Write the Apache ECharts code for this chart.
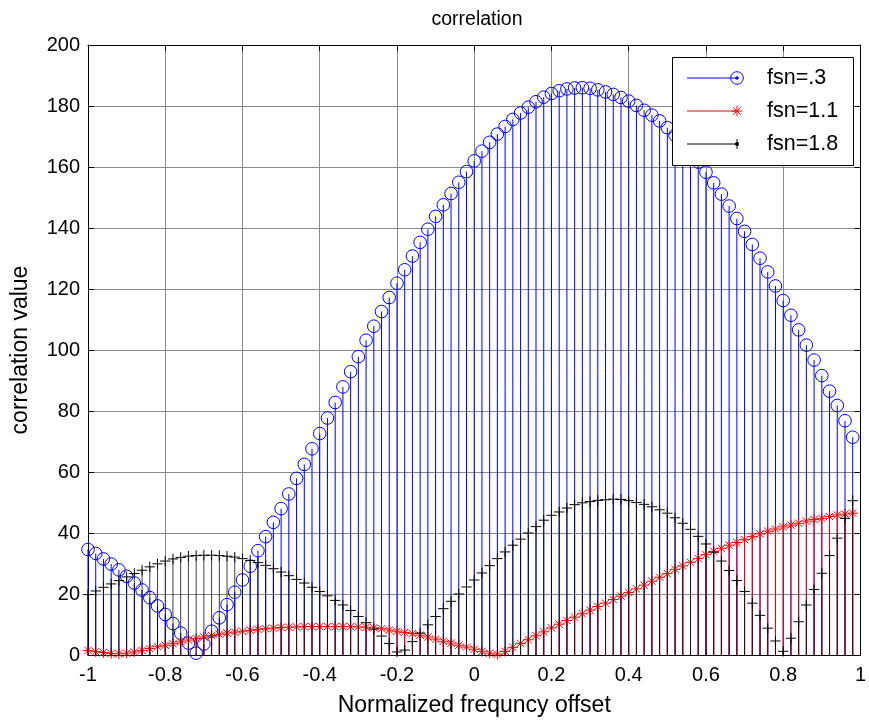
<!DOCTYPE html>
<html>
<head>
<meta charset="utf-8">
<script src="https://cdn.jsdelivr.net/npm/echarts@6/dist/echarts.min.js"></script>
<style>
html,body{margin:0;padding:0;background:#fff;}
#chart{width:869px;height:722px;}
</style>
</head>
<body>
<div id="chart"></div>
<script>
// ---- data ----
const xTicks = [-1, -0.8, -0.6, -0.4, -0.2, 0, 0.2, 0.4, 0.6, 0.8, 1];
const yTicks = [0, 20, 40, 60, 80, 100, 120, 140, 160, 180, 200];
const freqOffset = Array.from({length: 100}, (_, i) => Math.round((-1 + 0.02 * i) * 100) / 100);

const fsn03 = [34.6,33.3,31.5,29.8,27.9,25.8,23.6,21.3,18.8,16.1,
  13.3,10.3,7.2,3.9,0.6,3.6,7.8,12.2,16.5,20.6,
  24.6,29.1,34.2,38.8,43.5,48,52.8,57.9,62.5,67.6,
  72.6,77.7,82.8,87.9,92.9,97.8,103.2,107.8,112.6,117.2,
  121.9,126.3,130.8,135.3,139.6,143.8,147.6,151.3,155,158.5,
  162,165.2,168.1,170.8,173.3,175.6,177.7,179.6,181.4,182.9,
  184.1,185,185.6,185.9,186,185.8,185.3,184.6,183.8,182.8,
  181.6,180.2,178.6,177,175.1,172.9,170.4,167.7,164.8,161.6,
  158.3,154.8,151.1,147.2,143.1,138.9,134.6,130.1,125.6,121,
  116.2,111.4,106.6,101.6,96.7,91.6,86.5,81.8,76.8,71.4];

const fsn11 = [1.5,1.1,0.8,0.5,0.4,0.6,1.0,1.5,2.1,2.7,
  3.2,3.7,4.3,4.9,5.4,5.9,6.4,6.8,7.2,7.5,
  7.8,8.1,8.4,8.6,8.8,9.0,9.1,9.2,9.3,9.3,
  9.3,9.3,9.3,9.3,9.3,9.2,9.1,8.9,8.6,8.2,
  7.8,7.4,7.0,6.5,5.9,5.2,4.5,3.9,3.2,2.6,
  1.9,1.2,0.6,0.3,1.2,2.5,3.8,5.0,6.3,7.6,
  8.9,10.1,11.3,12.4,13.5,14.7,15.9,17.0,18.2,19.3,
  20.5,21.7,22.9,24.2,25.5,26.7,28.1,29.2,30.4,31.6,
  32.9,34.0,35.0,36.0,36.9,37.8,38.8,39.7,40.6,41.3,
  42.0,42.6,43.2,43.9,44.4,44.8,45.4,45.9,46.2,46.5];

const fsn18 = [19.8,21.0,22.2,23.3,24.4,25.6,26.7,27.8,28.9,29.9,
  30.8,31.5,32.0,32.4,32.6,32.7,32.7,32.6,32.4,32.1,
  31.6,31.0,30.3,29.4,28.3,27.2,26.0,24.8,23.6,22.2,
  20.8,19.4,17.9,16.4,14.6,12.6,10.6,8.5,6.2,3.8,
  1.0,1.6,4.4,7.2,9.9,12.6,15.2,17.6,20.0,22.3,
  24.6,26.9,29.3,31.6,33.8,36.0,38.0,40.0,42.1,44.2,
  45.8,46.9,48.2,49.3,49.9,50.3,50.7,50.9,51.1,51.0,
  50.6,50.0,49.4,48.6,47.6,46.5,45.0,43.2,41.2,38.9,
  36.4,33.7,30.8,27.7,24.4,20.8,17.0,13.0,8.8,4.6,
  1.2,5.5,10.9,16.4,21.5,26.8,32.6,38.3,44.8,50.6];

const seriesNames = ['fsn=.3', 'fsn=1.1', 'fsn=1.8'];
const FONT = 'Liberation Sans, Arial, Helvetica, sans-serif';

function pairs(vals) { return freqOffset.map((x, i) => [x, vals[i]]); }

function markerShapes(kind, cx, cy, color) {
  const s = {stroke: color, lineWidth: 1, fill: 'none'};
  if (kind === 'circle') {
    return [{type: 'circle', shape: {cx, cy, r: 6.3}, style: s}];
  }
  const h = 5.2, d = 3.7;
  const lines = [[-h, 0, h, 0], [0, -h, 0, h]];
  if (kind === 'star') { lines.push([-d, -d, d, d], [-d, d, d, -d]); }
  return lines.map(l => ({type: 'line', shape: {x1: cx + l[0], y1: cy + l[1], x2: cx + l[2], y2: cy + l[3]}, style: s}));
}

function stemRender(kind, color, stemOpacity) {
  return function (params, api) {
    const x = api.value(0), y = api.value(1);
    const base = api.coord([x, 0]);
    const top = api.coord([x, y]);
    const children = [{
      type: 'line',
      shape: {x1: base[0], y1: base[1], x2: top[0], y2: top[1]},
      style: {stroke: color, lineWidth: 1, opacity: stemOpacity}
    }].concat(markerShapes(kind, top[0], top[1], color));
    return {type: 'group', children};
  };
}

function stemSeries(name, vals, kind, color, op) {
  return {
    type: 'custom', name, data: pairs(vals), clip: false,
    encode: {x: 0, y: 1},
    renderItem: stemRender(kind, color, op),
    silent: true
  };
}

const chart = echarts.init(document.getElementById('chart'), null, {renderer: 'canvas'});
const L = {x: 672, y: 57, w: 181, h: 108};
const rows = [78, 111, 144];
const mx = 737;
const legendGraphics = [
  {type: 'rect', shape: {x: L.x + 0.5, y: L.y + 0.5, width: L.w, height: L.h}, style: {fill: '#fff', stroke: '#000', lineWidth: 1}},
  {type: 'line', shape: {x1: 687, y1: rows[0], x2: mx, y2: rows[0]}, style: {stroke: '#0000ff', lineWidth: 1}},
  {type: 'circle', shape: {cx: mx, cy: rows[0], r: 6.3}, style: {fill: 'none', stroke: '#0000ff', lineWidth: 1}},
  {type: 'circle', shape: {cx: mx, cy: rows[0], r: 1.8}, style: {fill: '#0000ff'}},
  {type: 'line', shape: {x1: 687, y1: rows[1], x2: mx, y2: rows[1]}, style: {stroke: '#ff0000', lineWidth: 1}},
  ...markerShapes('star', mx, rows[1], '#ff0000'),
  {type: 'line', shape: {x1: 687, y1: rows[2], x2: mx, y2: rows[2]}, style: {stroke: '#000', lineWidth: 1}},
  {type: 'line', shape: {x1: mx, y1: rows[2] - 5, x2: mx, y2: rows[2] + 5}, style: {stroke: '#000', lineWidth: 1}},
  {type: 'circle', shape: {cx: mx, cy: rows[2], r: 2}, style: {fill: '#000'}}
].concat(seriesNames.map((n, i) => ({
  type: 'text', x: 767, y: rows[i] + 0.5,
  style: {text: n, fill: '#000', font: '21.5px ' + FONT, textVerticalAlign: 'middle', verticalAlign: 'middle'}
}))).map(g => Object.assign({z: 100}, g));

const axisCommon = {
  type: 'value',
  axisLine: {show: true, onZero: false, lineStyle: {color: '#000', width: 1}},
  axisTick: {show: true, inside: true, length: 6, lineStyle: {color: '#000'}},
};

chart.setOption({
  animation: false,
  backgroundColor: '#fff',
  title: {
    text: 'correlation', left: 472, top: 5, textAlign: 'center',
    textStyle: {fontFamily: FONT, fontSize: 19.5, fontWeight: 'normal', color: '#000'}
  },
  grid: {left: 88, right: 7, top: 45, bottom: 67},
  xAxis: [
    Object.assign({}, axisCommon, {
      position: 'bottom', min: xTicks[0], max: xTicks[xTicks.length - 1], interval: 0.2,
      name: 'Normalized frequncy offset', nameLocation: 'middle', nameGap: 39,
      nameTextStyle: {fontFamily: FONT, fontSize: 23, color: '#000'},
      axisLabel: {fontFamily: FONT, fontSize: 20, color: '#000', margin: 10,
        formatter: v => String(Math.round(v * 10) / 10)},
      splitLine: {show: true, lineStyle: {color: '#8a8a8a', width: 1}}
    }),
    Object.assign({}, axisCommon, {
      position: 'top', min: xTicks[0], max: xTicks[xTicks.length - 1], interval: 0.2,
      axisLabel: {show: false}, splitLine: {show: false}
    })
  ],
  yAxis: [
    Object.assign({}, axisCommon, {
      position: 'left', min: yTicks[0], max: yTicks[yTicks.length - 1], interval: 20,
      name: 'correlation value', nameLocation: 'middle', nameGap: 56,
      nameTextStyle: {fontFamily: FONT, fontSize: 23, color: '#000'},
      axisLabel: {fontFamily: FONT, fontSize: 20, color: '#000', margin: 8},
      splitLine: {show: true, lineStyle: {color: '#8a8a8a', width: 1}}
    }),
    Object.assign({}, axisCommon, {
      position: 'right', min: yTicks[0], max: yTicks[yTicks.length - 1], interval: 20,
      axisLabel: {show: false}, splitLine: {show: false}
    })
  ],
  series: [
    stemSeries(seriesNames[0], fsn03, 'circle', '#0000ff', 1),
    stemSeries(seriesNames[1], fsn11, 'star', '#ff0000', 1),
    stemSeries(seriesNames[2], fsn18, 'plus', '#000000', 0.75)
  ],
  graphic: legendGraphics
});
</script>
</body>
</html>
